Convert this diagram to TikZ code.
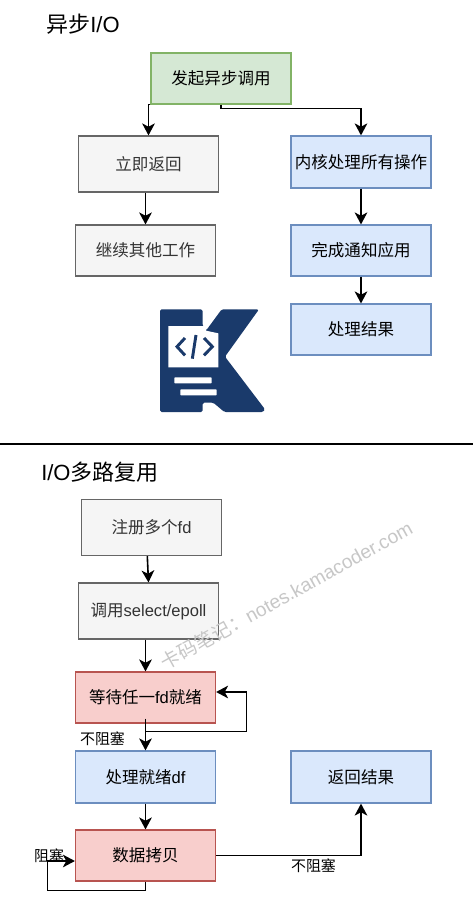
\documentclass[tikz,border=0pt]{standalone}
\usepackage{fontspec}
\setmainfont{Liberation Sans}
\newfontfamily\cjk{Noto Sans CJK SC}
\newcommand\zh[1]{{\cjk #1}}
\usetikzlibrary{arrows.meta,calc}
\definecolor{grayF}{HTML}{F5F5F5}\definecolor{grayD}{HTML}{666666}\definecolor{grayT}{HTML}{333333}
\definecolor{greenF}{HTML}{D5E8D4}\definecolor{greenD}{HTML}{82B366}
\definecolor{blueF}{HTML}{DAE8FC}\definecolor{blueD}{HTML}{6C8EBF}
\definecolor{redF}{HTML}{F8CECC}\definecolor{redD}{HTML}{B85450}
\definecolor{logoblue}{HTML}{1A3A6B}
\tikzset{
 x=0.75pt,y=-0.75pt,
 boxbase/.style={draw,line width=0.9pt,minimum width=105pt,inner sep=0pt,font=\fontsize{12.4}{14}\selectfont},
 graybox/.style={boxbase,fill=grayF,draw=grayD,text=grayT},
 greenbox/.style={boxbase,fill=greenF,draw=greenD},
 bluebox/.style={boxbase,fill=blueF,draw=blueD},
 redbox/.style={boxbase,fill=redF,draw=redD},
 flow/.style={line width=1.2pt,-{Stealth[length=9pt,width=9.5pt,inset=2.5pt]}},
 titletext/.style={font=\fontsize{16.5}{19}\selectfont,inner sep=0pt},
 smalltext/.style={font=\fontsize{11.2}{13}\selectfont,inner sep=0pt},
}
\begin{document}
\begin{tikzpicture}
\useasboundingbox (0,0) rectangle (473,899);
\fill[white] (0,0) rectangle (473,899);
% titles
\node[titletext,anchor=west] (t1) at (46,24.5) {\zh{异步}I/O};
\node[titletext,anchor=west] (t2) at (41,472) {I/O\zh{多路复用}};
% boxes
\node[greenbox,minimum height=38.2pt] (a) at (221,78.5) {\raisebox{1.5pt}{\zh{发起异步调用}}};
\node[graybox,minimum height=42pt] (b) at (148.5,164) {\zh{立即返回}};
\node[graybox,minimum height=38.2pt] (c) at (145.5,250.5) {\zh{继续其他工作}};
\node[bluebox,minimum height=39pt] (d) at (361,162) {\raisebox{1pt}{\zh{内核处理所有操作}}};
\node[bluebox,minimum height=38.2pt] (e) at (361,250.5) {\zh{完成通知应用}};
\node[bluebox,minimum height=38.2pt] (f) at (361,329.5) {\zh{处理结果}};
\node[graybox,minimum height=42pt] (reg) at (151.5,527.5) {\zh{注册多个}fd};
\node[graybox,minimum height=42pt] (call) at (148.5,611) {\zh{调用}select/epoll};
\node[redbox,minimum height=38.2pt] (wait) at (145.5,697.5) {\zh{等待任一}fd\zh{就绪}};
\node[bluebox,minimum height=39pt] (ready) at (145.5,777) {\zh{处理就绪}df};
\node[redbox,minimum height=38.2pt] (copy) at (145.5,855.5) {\zh{数据拷贝}};
\node[bluebox,minimum height=39pt] (res) at (361,777) {\zh{返回结果}};
% separator
\coordinate (sl) at (0,444); \coordinate (sr) at (473,444);
\draw[line width=1.2pt] (sl) -- (sr);
% connectors top
\coordinate (abend) at (b.north |- a.south);
\draw[flow] (a.south west) -- (abend) -- (b.north);
\draw[flow] (a.south) -- ($(a.south)+(0,4)$) -| (d.north);
\draw[flow] (c.north |- b.south) -- (c.north);
\draw[flow] (d.south) -- (e.north);
\draw[flow] (e.south) -- (f.north);
% connectors bottom
\draw[flow] ([xshift=-3.15pt]reg.south) -- (call.north);
\draw[flow] (wait.north |- call.south) -- (wait.north);
\draw[flow] ([yshift=3.75pt]wait.south) -- (ready.north);
\coordinate (lp1) at (145.5,731.5); \coordinate (lp2) at (246.5,731.5); \coordinate (lp3) at (246.5,692); \coordinate (lp4) at (wait.east |- lp3);
\draw[flow] (lp1) -- (lp2) -- (lp3) -- (lp4);
\draw[flow] (ready.south) -- (copy.north);
\draw[flow] (copy.east) -| (res.south);
\coordinate (lq2) at (145.5,890.5); \coordinate (lq3) at (47.5,890.5); \coordinate (lq4) at (47.5,861); \coordinate (lq5) at (copy.west |- lq4);
\draw[flow] (copy.south) -- (lq2) -- (lq3) -- (lq4) -- (lq5);
% labels
\node[smalltext] (n1) at (102.5,739) {\zh{不阻塞}};
\node[smalltext] (n2) at (313.5,866) {\zh{不阻塞}};
\node[smalltext] (n3) at (49,855.5) {\zh{阻塞}};
% logo
\begin{scope}[shift={(130,290)},x=0.25pt,y=-0.25pt]
\fill[logoblue,rounded corners=1.2pt] (90,58) -- (218,58) -- (218,108) -- (228,122) -- (275,58) -- (387,58) -- (285,200) -- (405,358) -- (400,366) -- (283,366) -- (250,338) -- (218,338) -- (218,366) -- (90,366) -- cycle;
\fill[white] (115,108) -- (228,108) -- (228,122) -- (265,130) -- (265,232) -- (115,232) -- cycle;
\fill[white,rounded corners=0.5pt] (133,262) rectangle (245,280);
\fill[white,rounded corners=0.5pt] (151,298) rectangle (260,316);
\draw[logoblue,line width=2.2pt] (165,144) -- (141,170) -- (165,196);
\draw[logoblue,line width=2.2pt] (222,144) -- (247,170) -- (222,196);
\draw[logoblue,line width=2.2pt] (198,135) -- (187,206);
\end{scope}
% watermark
\node[rotate=29,text=black!22,font=\fontsize{14.4}{17}\selectfont,inner sep=0pt] (wm) at (286.5,595) {\zh{卡码笔记：}notes.kamacoder.com};
\end{tikzpicture}
\end{document}
